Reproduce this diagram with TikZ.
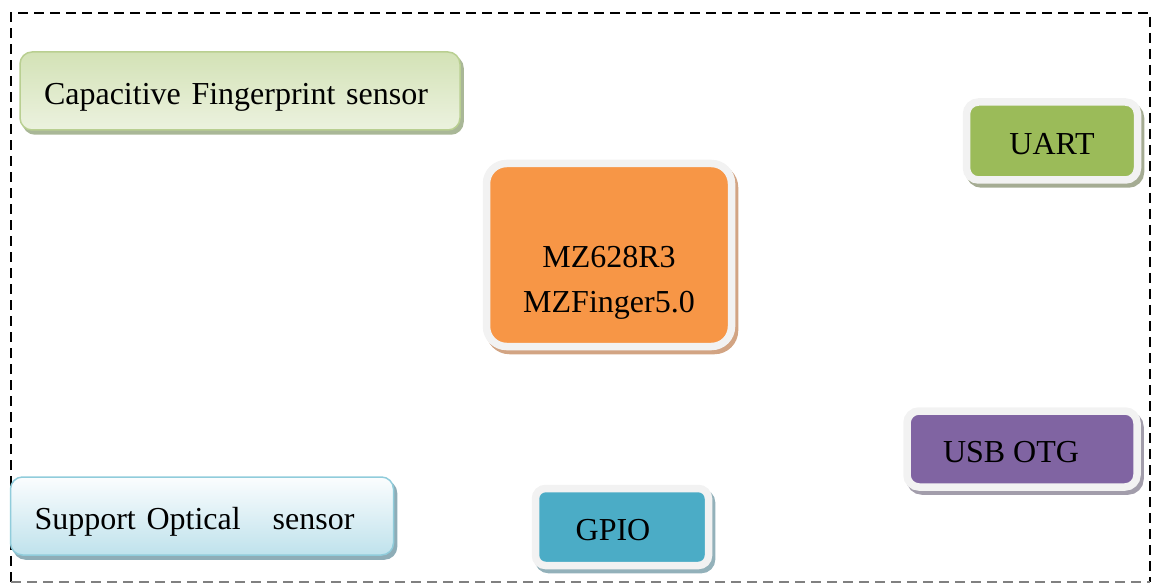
\documentclass[tikz,border=0pt]{standalone}
\usepackage{fontspec}
\setmainfont{Liberation Serif}
\usepackage{tikz}

\definecolor{tilerim}{HTML}{F2F2F2}
\definecolor{mzorange}{HTML}{F79646}
\definecolor{mzshade}{HTML}{D2A483}
\definecolor{uartgreen}{HTML}{9BBB59}
\definecolor{uartshade}{HTML}{A5AC93}
\definecolor{usbpurple}{HTML}{8064A2}
\definecolor{usbshade}{HTML}{A29DAB}
\definecolor{gpioblue}{HTML}{4BACC6}
\definecolor{gpioshade}{HTML}{93B1BA}
\definecolor{captop}{HTML}{D3E2B6}
\definecolor{capbot}{HTML}{ECF2DF}
\definecolor{capedge}{HTML}{B9CF91}
\definecolor{capshade}{HTML}{A9B797}
\definecolor{opttop}{HTML}{FBFDFE}
\definecolor{optbot}{HTML}{BFE2EC}
\definecolor{optedge}{HTML}{90CCDB}
\definecolor{optshade}{HTML}{8EADB7}

\begin{document}
\begin{tikzpicture}[x=1pt, y=-1pt,
    tile/.style={rounded corners=#1, draw=tilerim, line width=7.5pt, inner sep=0pt,
        text height=27pt, text depth=0pt, font=\fontsize{32}{38}\selectfont},
    sensor/.style={rounded corners=12pt, line width=1.5pt, align=left, inner xsep=24pt,
        minimum height=78pt, text height=27pt, text depth=0pt, font=\fontsize{32}{38}\selectfont},
    shadowed/.style={preaction={draw=#1, fill=#1, transform canvas={xshift=3pt, yshift=-4pt}}}]
            \useasboundingbox (0,0) rectangle (1154,585);

            % Frame
            \draw[line width=2pt, dash pattern=on 10pt off 6pt] (11,582) -- (11,13) -- (1150,13) -- (1150,582);
            \draw[line width=1.2pt, gray, dash pattern=on 10pt off 6pt] (11,582) -- (1150,582);

            % Nodes
            \node[sensor, shadowed=capshade, draw=capedge, top color=captop, bottom color=capbot,
                text width=392pt] (cap) at (240,91) {Capacitive Fingerprint sensor};
            \node[sensor, shadowed=optshade, draw=optedge, top color=opttop, bottom color=optbot,
                text width=335pt] (opt) at (202,516) {Support Optical\quad sensor};
            \node[tile=20pt, shadowed=mzshade, fill=mzorange, minimum width=245pt, minimum height=183pt] (mz) at (609,255) {};
            \node[align=center, font=\fontsize{32}{45}\selectfont] (mztext) at (609,283) {MZ628R3\\MZFinger5.0};
            \node[tile=12pt, shadowed=uartshade, fill=uartgreen, minimum width=171pt, minimum height=78pt] (uart) at (1052,141) {UART};
            \node[tile=12pt, shadowed=usbshade, fill=usbpurple, minimum width=230pt, minimum height=76pt] (usb) at (1022,449) {USB OTG\hspace*{22pt}};
            \node[tile=10pt, shadowed=gpioshade, fill=gpioblue, minimum width=173pt, minimum height=77pt] (gpio) at (622,527) {GPIO\hspace*{18pt}};
        \end{tikzpicture}
\end{document}
